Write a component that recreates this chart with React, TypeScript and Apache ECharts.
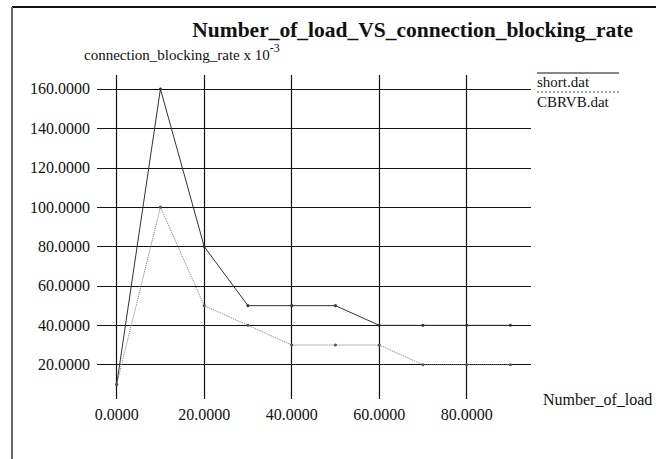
import React, { useEffect, useRef } from "react";
import * as echarts from "echarts";

const loads = [0, 10, 20, 30, 40, 50, 60, 70, 80, 90];
const shortDat = [10, 160, 80, 50, 50, 50, 40, 40, 40, 40];
const cbrvbDat = [10, 100, 50, 40, 30, 30, 30, 20, 20, 20];
const xTicks = [0, 20, 40, 60, 80];
const yTicks = [20, 40, 60, 80, 100, 120, 140, 160];
const seriesNames = ["short.dat", "CBRVB.dat"];

const FONT = "'Liberation Serif', 'Times New Roman', serif";

export default function App() {
  const ref = useRef<HTMLDivElement>(null);
  useEffect(() => {
    if (!ref.current) return;
    const chart = echarts.init(ref.current, null, { renderer: "svg" });
    chart.setOption({
      animation: false,
      backgroundColor: "#fff",
      title: {
        text: "Number_of_load_VS_connection_blocking_rate",
        right: 18,
        top: 14,
        textStyle: { fontFamily: FONT, fontWeight: "bold", fontSize: 21.5, color: "#111" },
      },
      grid: { left: 97, right: 125, top: 75, bottom: 60, outerBoundsMode: "none", containLabel: false },
      xAxis: {
        type: "value",
        min: -4.5,
        max: 94.7,
        name: "Number_of_load",
        nameLocation: "end",
        nameGap: 12,
        nameTextStyle: { fontFamily: FONT, fontSize: 16, color: "#111", align: "left", verticalAlign: "middle" },
        axisLine: { show: false },
        axisTick: { show: false, customValues: xTicks },
        axisLabel: {
          customValues: xTicks,
          formatter: (v: number) => v.toFixed(4),
          fontFamily: FONT,
          fontSize: 16,
          color: "#111",
          margin: 7,
        },
        splitLine: { show: true, lineStyle: { color: "#111", width: 1.2 } },
      },
      yAxis: {
        type: "value",
        min: 2.6,
        max: 167.1,
        axisLine: { show: false },
        axisTick: { show: false, customValues: yTicks },
        axisLabel: {
          customValues: yTicks,
          formatter: (v: number) => v.toFixed(4),
          fontFamily: FONT,
          fontSize: 16,
          color: "#111",
          margin: 7,
        },
        splitLine: { show: true, lineStyle: { color: "#111", width: 1.2 } },
      },
      series: [
        {
          name: seriesNames[0],
          type: "line",
          data: loads.map((x, i) => [x, shortDat[i]]),
          symbol: "circle",
          symbolSize: 3,
          itemStyle: { color: "#333" },
          lineStyle: { color: "#333", width: 1, type: "solid" },
        },
        {
          name: seriesNames[1],
          type: "line",
          data: loads.map((x, i) => [x, cbrvbDat[i]]),
          symbol: "circle",
          symbolSize: 3,
          itemStyle: { color: "#555" },
          lineStyle: { color: "#777", width: 1, type: "dotted" },
        },
      ],
      graphic: [
        { type: "line", shape: { x1: 12, y1: 7, x2: 656, y2: 7 }, style: { stroke: "#111", lineWidth: 2 } },
        { type: "line", shape: { x1: 12, y1: 7, x2: 12, y2: 459 }, style: { stroke: "#666", lineWidth: 2 } },
        {
          type: "text",
          left: 84,
          top: 42,
          style: {
            text: "{a|connection_blocking_rate x 10}{s|-3}",
            rich: {
              a: { fontFamily: FONT, fontSize: 15, fill: "#111", verticalAlign: "bottom" },
              s: { fontFamily: FONT, fontSize: 12, fill: "#111", verticalAlign: "top", padding: [0, 0, 8, 0] },
            },
          },
        },
        { type: "line", shape: { x1: 537, y1: 73, x2: 619, y2: 73 }, style: { stroke: "#111", lineWidth: 1 } },
        {
          type: "text",
          left: 537,
          top: 74,
          style: { text: seriesNames[0], fontFamily: FONT, fontSize: 15, fill: "#111" },
        },
        {
          type: "line",
          shape: { x1: 537, y1: 92, x2: 619, y2: 92 },
          style: { stroke: "#555", lineWidth: 1, lineDash: [2, 2] },
        },
        {
          type: "text",
          left: 537,
          top: 94,
          style: { text: seriesNames[1], fontFamily: FONT, fontSize: 15, fill: "#111" },
        },
      ],
    });
    return () => chart.dispose();
  }, []);
  return (
    <div
      ref={ref}
      style={{ position: "fixed", left: 0, top: 0, width: 656, height: 459, background: "#fff" }}
    />
  );
}
